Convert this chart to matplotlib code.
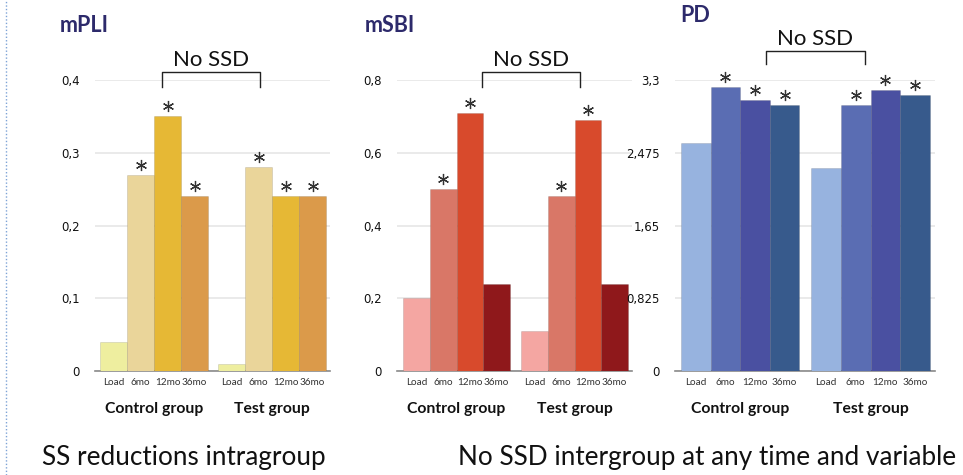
import matplotlib
matplotlib.use("Agg")
import matplotlib.pyplot as plt
from matplotlib import transforms
from matplotlib.lines import Line2D

# ---------------- data ----------------
timepoints = ["Load", "6mo", "12mo", "36mo"]
groups = ["Control group", "Test group"]

mpli_control = [0.04, 0.27, 0.35, 0.24]
mpli_test = [0.01, 0.28, 0.24, 0.24]
mpli_sig_control = [False, True, True, True]
mpli_sig_test = [False, True, True, True]
mpli_ticks = [0, 0.1, 0.2, 0.3, 0.4]
mpli_ticklabels = ["0", "0,1", "0,2", "0,3", "0,4"]

msbi_control = [0.20, 0.50, 0.71, 0.24]
msbi_test = [0.11, 0.48, 0.69, 0.24]
msbi_sig_control = [False, True, True, False]
msbi_sig_test = [False, True, True, False]
msbi_ticks = [0, 0.2, 0.4, 0.6, 0.8]
msbi_ticklabels = ["0", "0,2", "0,4", "0,6", "0,8"]

pd_control = [2.58, 3.22, 3.07, 3.02]
pd_test = [2.30, 3.02, 3.19, 3.13]
pd_sig_control = [False, True, True, True]
pd_sig_test = [False, True, True, True]
pd_ticks = [0, 0.825, 1.65, 2.475, 3.3]
pd_ticklabels = ["0", "0,825", "1,65", "2,475", "3,3"]

titles = ["mPLI", "mSBI", "PD"]
bracket_label = "No SSD"
footer_left = "SS reductions intragroup"
footer_right = "No SSD intergroup at any time and variable"

# ---------------- styling ----------------
W, H = 963, 475
fig = plt.figure(figsize=(W / 100, H / 100), dpi=100)
fig.patch.set_facecolor("white")

TITLE_COL = "#2d2a6b"
FONT = ["Lato", "DejaVu Sans"]
colors = [
    ["#eeee9f", "#ead59a", "#e6b835", "#db9a4a"],
    ["#f4a6a2", "#d97767", "#d84a2c", "#8f181b"],
    ["#97b3df", "#5a6db3", "#4a50a1", "#375a8c"],
]

panels = [
    dict(l=95, r=330, bar0=100, barw=27.0, gap=10, top=80, bot=371,
         title_x=60, title_y=26, br=(162, 260), br_top=72, br_bot=87, br_txt=60),
    dict(l=397, r=632, bar0=403, barw=26.75, gap=11, top=80, bot=371,
         title_x=365, title_y=26, br=(482, 580), br_top=72, br_bot=87, br_txt=60),
    dict(l=675, r=935, bar0=681, barw=29.6, gap=12, top=80, bot=371,
         title_x=680, title_y=16, br=(766, 865), br_top=51, br_bot=64, br_txt=39),
]

data = [
    (mpli_control, mpli_test, mpli_sig_control, mpli_sig_test, mpli_ticks, mpli_ticklabels),
    (msbi_control, msbi_test, msbi_sig_control, msbi_sig_test, msbi_ticks, msbi_ticklabels),
    (pd_control, pd_test, pd_sig_control, pd_sig_test, pd_ticks, pd_ticklabels),
]


def fx(px):
    return px / W


def fy(py):
    return 1 - py / H


for i, (p, d) in enumerate(zip(panels, data)):
    ctrl, test, sc, st, ticks, tlabels = d
    ax = fig.add_axes([fx(p["l"]), fy(p["bot"]), fx(p["r"] - p["l"]), (p["bot"] - p["top"]) / H])
    bw = p["barw"]
    gap_units = p["gap"] / bw
    xs_c = [k for k in range(4)]
    xs_t = [4 + gap_units + k for k in range(4)]
    left = (p["l"] - (p["bar0"] + bw / 2)) / bw
    right = (p["r"] - (p["bar0"] + bw / 2)) / bw
    ax.set_xlim(left, right)
    ax.set_ylim(ticks[0], ticks[-1])

    ax.bar(xs_c, ctrl, width=1.0, color=colors[i], edgecolor=(0, 0, 0, 0.12), linewidth=0.6, zorder=3)
    ax.bar(xs_t, test, width=1.0, color=colors[i], edgecolor=(0, 0, 0, 0.12), linewidth=0.6, zorder=3)

    off = transforms.offset_copy(ax.transData, fig=fig, x=0, y=10, units="dots")
    for xs, vals, sig in ((xs_c, ctrl, sc), (xs_t, test, st)):
        for x, v, s in zip(xs, vals, sig):
            if s:
                ax.plot([x], [v], marker=(6, 2, 0), markersize=8, markeredgewidth=0.9,
                        color="#333333", transform=off, clip_on=False, zorder=5)

    ax.set_yticks(ticks)
    ax.set_yticklabels(tlabels, fontsize=8.5, color="#111111")
    ax.tick_params(axis="y", length=0, pad=11)
    ax.yaxis.grid(True, color="#e6e6e6", linewidth=1.2, zorder=0)
    ax.set_axisbelow(True)
    for s in ["top", "right", "left"]:
        ax.spines[s].set_visible(False)
    ax.spines["bottom"].set_color("#8a8a8a")
    ax.spines["bottom"].set_linewidth(1.2)
    ax.set_xticks(xs_c + xs_t)
    ax.set_xticklabels(timepoints * 2, fontsize=7.2, color="#333333", family=FONT)
    ax.tick_params(axis="x", length=0, pad=5)

    for xs, g in ((xs_c, groups[0]), (xs_t, groups[1])):
        cx = (xs[0] + xs[-1]) / 2
        ax.annotate(g, xy=(cx, 0), xycoords=("data", "figure fraction"), xytext=(cx, fy(409)),
                    textcoords=("data", "figure fraction"), ha="center", va="center",
                    fontsize=11.3, fontweight="bold", family=FONT, color="#111111")

    fig.text(fx(p["title_x"]), fy(p["title_y"]), titles[i], ha="left", va="center",
             fontsize=15.5, fontweight="bold", family=FONT, color=TITLE_COL)

    x0, x1 = fx(p["br"][0]), fx(p["br"][1])
    yt, yb = fy(p["br_top"]), fy(p["br_bot"])
    fig.add_artist(Line2D([x0, x0, x1, x1], [yb, yt, yt, yb], color="#222222", linewidth=1.0,
                          transform=fig.transFigure))
    fig.text((x0 + x1) / 2, fy(p["br_txt"]), bracket_label, ha="center", va="center",
             fontsize=16, family=FONT, color="#111111")

fig.text(fx(42), fy(457), footer_left, ha="left", va="center", fontsize=18.8,
         family=FONT, color="#111111")
fig.text(fx(458), fy(457), footer_right, ha="left", va="center", fontsize=18.8,
         family=FONT, color="#111111")

fig.add_artist(Line2D([fx(6), fx(6)], [0, 1], color="#7da3d6", linewidth=1.0, linestyle=(0, (1, 1.5)),
                      transform=fig.transFigure))

fig.savefig("out.png", dpi=100, facecolor="white")
